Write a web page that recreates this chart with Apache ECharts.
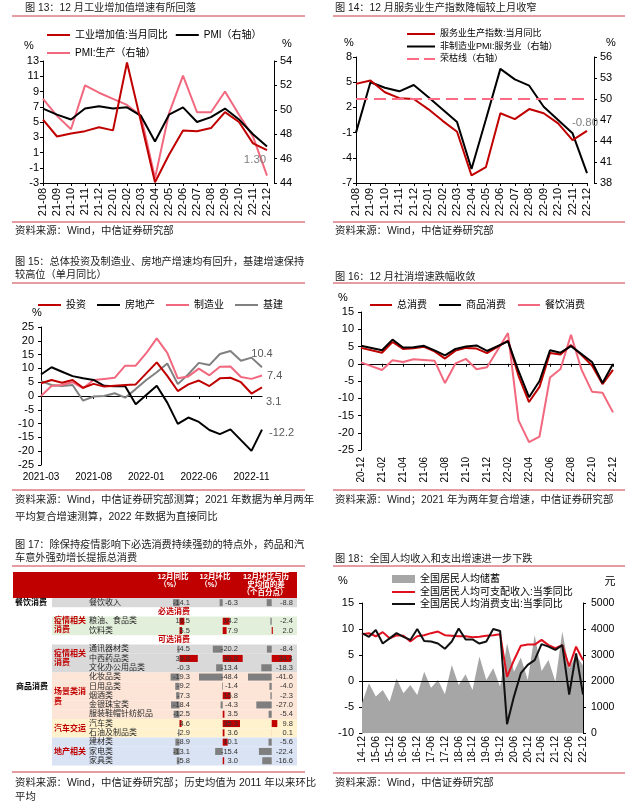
<!DOCTYPE html>
<html><head><meta charset="utf-8">
<script src="https://cdn.jsdelivr.net/npm/echarts/dist/echarts.min.js"></script>
<style>html,body{margin:0;padding:0;background:#fff}#c{width:640px;height:809px}</style>
</head><body><div id="c"></div>
<script>
// ---------- Chart 13 ----------
const c13Cats = ['21-08','21-09','21-10','21-11','21-12','22-01','22-02','22-03','22-04','22-05','22-06','22-07','22-08','22-09','22-10','22-11','22-12'];
const c13Iva  = [5.3,3.1,3.5,3.8,4.3,3.9,12.8,5.0,-2.9,0.7,3.9,3.8,4.2,6.3,5.0,2.2,1.3];
const c13Pmi  = [50.1,49.6,49.2,50.1,50.3,50.1,50.2,49.5,47.4,49.6,50.2,49.0,49.4,50.1,49.2,48.0,47.0];
const c13Prod = [50.9,49.5,48.4,52.0,51.4,50.9,50.4,49.5,44.4,49.7,52.8,49.8,49.8,51.5,49.6,47.8,44.6];
// ---------- Chart 14 ----------
const c14Cats = ['21-08','21-09','21-10','21-11','21-12','22-01','22-02','22-03','22-04','22-05','22-06','22-07','22-08','22-09','22-10','22-11','22-12'];
const c14Svc  = [4.8,5.2,3.8,3.1,3.0,1.8,0.4,-0.9,-6.1,-5.1,1.3,0.6,1.8,1.3,0.1,-1.9,-0.8];
const c14Pmi  = [45.2,52.4,51.6,51.1,52.0,50.3,48.5,46.7,40.0,47.1,54.3,52.8,51.9,48.9,47.0,45.1,39.4];
const c14Line = 50;
// ---------- Chart 15 ----------
const c15Cats = ['2021-03','2021-04','2021-05','2021-06','2021-07','2021-08','2021-09','2021-10','2021-11','2021-12','2022-01','2022-02','2022-03','2022-04','2022-05','2022-06','2022-07','2022-08','2022-09','2022-10','2022-11','2022-12'];
const c15Inv   = [4.6,5.8,4.8,5.8,3.0,4.4,3.4,3.7,4.0,4.2,8.2,12.2,7.3,1.8,4.2,5.6,3.6,6.4,6.6,5.0,0.9,3.1];
const c15Re    = [7.8,10.4,8.8,7.2,6.4,5.8,3.7,3.5,3.5,-3.0,0.4,3.7,-2.4,-10.1,-7.8,-9.4,-12.3,-13.8,-12.1,-16.0,-19.9,-12.2];
const c15Mfg   = [0.0,3.6,4.0,5.0,2.8,5.8,6.2,6.6,11.0,11.0,15.5,20.9,15.6,6.4,7.1,9.9,7.5,10.6,10.7,6.9,6.2,7.4];
const c15Infra = [5.4,4.0,3.6,4.0,-1.7,-0.2,0.0,1.0,-0.6,2.5,5.8,8.6,11.8,4.3,7.9,12.0,11.2,15.2,16.3,12.8,13.9,10.4];
// ---------- Chart 16 ----------
const c16Cats = ['20-12','21-01','21-02','21-03','21-04','21-05','21-06','21-07','21-08','21-09','21-10','21-11','21-12','22-01','22-02','22-03','22-04','22-05','22-06','22-07','22-08','22-09','22-10','22-11','22-12'];
const c16Total = [4.6,null,3.2,6.3,4.3,4.5,4.9,3.6,1.5,3.8,4.6,4.4,3.1,null,6.7,-3.5,-11.1,-6.7,3.1,2.7,5.4,2.5,-0.5,-5.9,-1.8];
const c16Goods = [5.2,null,3.9,7.0,4.7,4.8,5.2,3.9,2.4,4.3,5.0,5.3,3.7,null,6.5,-2.1,-9.7,-5.0,3.9,3.2,5.1,2.8,0.5,-5.6,-0.1];
const c16Food  = [0.4,null,-1.8,1.0,0.5,1.3,1.1,0.9,-5.6,0.1,1.4,-1.6,-1.0,null,8.9,-16.4,-22.7,-21.1,-4.0,-1.5,8.4,-1.7,-8.1,-8.4,-14.1];
// ---------- Chart 17 (table) ----------
const tRows = ['餐饮收入','必选消费','粮油、食品类','饮料类','可选消费','通讯器材类','中西药品类','文化办公用品类','化妆品类','日用品类','烟酒类','金银珠宝类','服装鞋帽针纺织品','汽车类','石油及制品类','建材类','家电类','家具类'];
const tBand = ['cy','','bx','bx','','yq','yq','yq','cj','cj','cj','cj','cj','qc','qc','dc','dc','dc'];
const tYoy  = [-14.1,null,10.5,5.5,null,-4.5,39.8,-0.3,-19.3,-9.2,-7.3,-18.4,-12.5,4.6,-2.9,-8.9,-13.1,-5.8];
const tMom  = [-6.3,null,14.2,7.9,null,-20.2,40.8,-13.4,-48.4,-1.4,15.8,-4.3,3.5,35.3,3.6,10.1,-15.4,3.0];
const tDiff = [-8.8,null,-2.4,2.0,null,-8.4,34.4,-18.3,-41.6,-4.0,-2.3,-27.0,-5.4,9.8,0.1,-5.6,-22.4,-16.6];
// ---------- Chart 18 ----------
const c18Cats = ['14-12','15-03','15-06','15-09','15-12','16-03','16-06','16-09','16-12','17-03','17-06','17-09','17-12','18-03','18-06','18-09','18-12','19-03','19-06','19-09','19-12','20-03','20-06','20-09','20-12','21-03','21-06','21-09','21-12','22-03','22-06','22-09','22-12'];
const c18Sav = [1150,1910,1400,1650,1200,2100,1530,1850,1460,2360,1740,2040,1490,2615,1850,2260,1650,2940,2040,2490,1780,3450,2360,2900,2040,3770,2380,2810,1970,3900,2490,3000,2600];
const c18Inc = [9.0,9.2,8.6,9.4,8.2,8.8,8.7,7.6,8.6,8.8,9.2,9.5,8.8,8.7,8.6,8.6,8.4,8.5,8.7,8.8,9.0,0.8,4.0,6.8,7.0,7.0,7.9,6.9,6.3,6.9,2.8,6.6,4.0];
const c18Exp = [9.2,8.5,9.8,7.2,8.2,9.2,8.5,7.9,10.0,7.7,7.6,7.2,6.2,7.6,10.1,8.0,8.0,7.2,7.6,10.0,9.6,-8.3,-3.0,1.5,3.1,4.0,7.1,6.6,6.0,6.9,-2.6,5.3,-2.6];

// ================= build =================
const FF = "'Liberation Sans','Noto Sans CJK SC',sans-serif";
const RED = '#c00000', PINK = '#f2687e', GRAYL = '#808080', BLK = '#000000';
const RULE = '#cc3a44';
const opt = {animation:false, backgroundColor:'#ffffff', textStyle:{fontFamily:FF},
  grid:[], xAxis:[], yAxis:[], series:[], legend:[], graphic:[]};
function grid(g){ opt.grid.push(Object.assign({outerBoundsMode:'none', containLabel:false}, g)); return opt.grid.length-1; }
function xa(a){ opt.xAxis.push(a); return opt.xAxis.length-1; }
function ya(a){ opt.yAxis.push(a); return opt.yAxis.length-1; }
function vAxis(gi,min,max,itv,pos,margin,fs,offset){
  return ya({type:'value',gridIndex:gi,min:min,max:max,interval:itv,position:pos,offset:offset||0,
    axisLine:{show:true,onZero:false,lineStyle:{color:'#000',width:1}},
    axisTick:{show:true,length:3,lineStyle:{color:'#000',width:1}},
    axisLabel:{color:'#000',fontSize:fs||11,fontFamily:FF,margin:margin,formatter:v=>String(v)},
    splitLine:{show:false}});
}
function catBottom(gi,data,o){
  return xa({type:'category',gridIndex:gi,data:data,boundaryGap:false,position:'bottom',
    axisLine:{show:!!o.line,onZero:false,lineStyle:{color:'#000',width:1}},
    axisTick:{show:!!o.tick,length:3,interval:o.itv,lineStyle:{color:'#000'}},
    axisLabel:{show:true,interval:o.itv,rotate:o.rot||0,margin:o.margin,fontSize:o.fs,color:'#000',fontFamily:FF},
    splitLine:{show:false}});
}
function zeroAxis(gi,data,o){
  return xa({type:'category',gridIndex:gi,data:data,boundaryGap:false,position:'top',z:o.z||0,
    axisLine:{show:true,onZero:true,lineStyle:{color:'#000',width:1}},
    axisTick:{show:!!o.tick,inside:true,length:3,interval:o.itv,lineStyle:{color:'#000'}},
    axisLabel:{show:false},splitLine:{show:false}});
}
function lineS(name,xi,yi,data,color,o){
  o=o||{};
  const s={type:'line',name:name,xAxisIndex:xi,yAxisIndex:yi,data:data,symbol:'none',silent:true,
    connectNulls:!!o.connect,z:o.z||2,lineStyle:{color:color,width:o.w||2,type:o.type||'solid'},
    itemStyle:{color:color},emphasis:{disabled:true}};
  if(o.label){
    s.symbol='circle'; s.symbolSize=0; s.showSymbol=true; s.showAllSymbol=true; s.label={show:false};
    const n=data.length-1;
    s.data=data.map((v,i)=> i===n ? {value:v,label:Object.assign({show:true,color:'#595959',fontSize:11,fontFamily:FF},o.label)} : v);
  }
  if(o.area){ s.areaStyle={color:color,opacity:1,origin:'start'}; s.lineStyle.width=0; }
  if(o.markLine){ s.markLine=o.markLine; }
  opt.series.push(s); return s;
}
function legend(l){
  opt.legend.push(Object.assign({padding:0,itemGap:8,itemWidth:23,itemHeight:2,icon:'rect',selectedMode:false,
    textStyle:{fontSize:10,color:'#000',fontFamily:FF}},l));
}
function T(text,x,y,o){ o=o||{};
  opt.graphic.push({type:'text',x:x,y:y,z:o.z||30,silent:true,style:{text:text,fill:o.color||'#1a1a1a',
    fontSize:o.size||10,fontWeight:o.bold?'bold':'normal',fontFamily:FF,
    align:o.align||'left',verticalAlign:'middle',textAlign:o.align||'left',textVerticalAlign:'middle'}});
}
function L(x1,y1,x2,y2,c,w){ opt.graphic.push({type:'line',silent:true,z:30,shape:{x1:x1,y1:y1,x2:x2,y2:y2},style:{stroke:c,lineWidth:w||1}}); }
function R(x,y,w,h,c,z){ opt.graphic.push({type:'rect',silent:true,z:z||0,shape:{x:x,y:y,width:w,height:h},style:{fill:c}}); }

// ---------- Chart 13 ----------
{
  const g=grid({left:43,top:61,width:224,height:122});
  const x=catBottom(g,c13Cats,{line:true,tick:true,itv:0,rot:90,margin:5,fs:11});
  const yl=vAxis(g,-3,13,2,'left',4,11);
  const yr=vAxis(g,44,54,2,'right',6,11,7);
  lineS('PMI:生产（右轴）',x,yr,c13Prod,PINK);
  lineS('PMI（右轴）',x,yr,c13Pmi,BLK);
  lineS('工业增加值:当月同比',x,yl,c13Iva,RED,{label:{position:'bottom',distance:4,offset:[-12,0],color:'#808080',fontSize:11.5,formatter:p=>Number(p.value).toFixed(2)}});
  legend({data:['工业增加值:当月同比','PMI（右轴）'],left:47,top:30,itemGap:8});
  legend({data:['PMI:生产（右轴）'],left:47,top:48});
}
// ---------- Chart 14 ----------
{
  const g=grid({left:356,top:57,width:231,height:126});
  const x=catBottom(g,c14Cats,{line:true,tick:true,itv:0,rot:90,margin:5,fs:11});
  const yl=vAxis(g,-7,8,3,'left',4,11);
  const yr=vAxis(g,38,56,3,'right',6,11,7);
  lineS('荣枯线（右轴）',x,yr,[],'#ff6b84',{type:[12,6],markLine:{symbol:'none',silent:true,label:{show:false},
    lineStyle:{color:'#ff6b84',width:2,type:[12,6]},emphasis:{disabled:true},data:[{yAxis:c14Line}]}});
  lineS('非制造业PMI:服务业（右轴）',x,yr,c14Pmi,BLK);
  lineS('服务业生产指数:当月同比',x,yl,c14Svc,RED,{label:{position:'top',distance:2,offset:[-2,0],color:'#808080',fontSize:11.5,formatter:p=>Number(p.value).toFixed(2)}});
  const ts={fontSize:9,color:'#000',fontFamily:FF};
  legend({data:['服务业生产指数:当月同比'],left:407,top:29.5,itemWidth:28,textStyle:ts});
  legend({data:['非制造业PMI:服务业（右轴）'],left:407,top:42,itemWidth:28,textStyle:ts});
  legend({data:[{name:'荣枯线（右轴）',icon:'path://M0,0h12v2h-12zM17,0h11v2h-11z'}],left:407,top:54.5,itemWidth:28,textStyle:ts});
}
// ---------- Chart 15 ----------
{
  const g=grid({left:41,top:327,width:221,height:138});
  const x=catBottom(g,c15Cats,{line:false,tick:false,itv:4,margin:7,fs:10});
  zeroAxis(g,c15Cats,{tick:true,itv:4});
  const y=vAxis(g,-25,25,5,'left',7,11);
  lineS('基建',x,y,c15Infra,GRAYL,{label:{position:'top',distance:8}});
  lineS('制造业',x,y,c15Mfg,PINK,{label:{position:'right',distance:5}});
  lineS('房地产',x,y,c15Re,BLK,{label:{position:'right',distance:7,offset:[0,3]}});
  lineS('投资',x,y,c15Inv,RED,{label:{position:'right',distance:4,offset:[0,15]}});
  legend({data:['投资','房地产','制造业','基建'],left:38,top:300,itemGap:11});
}
// ---------- Chart 16 ----------
{
  const g=grid({left:361,top:312,width:252,height:138});
  const x=catBottom(g,c16Cats,{line:false,tick:false,itv:1,rot:90,margin:7,fs:10});
  zeroAxis(g,c16Cats,{tick:true,itv:1});
  const y=vAxis(g,-25,15,5,'left',7,11);
  lineS('餐饮消费',x,y,c16Food,PINK,{connect:true});
  lineS('总消费',x,y,c16Total,RED,{connect:true});
  lineS('商品消费',x,y,c16Goods,BLK,{connect:true});
  legend({data:['总消费','商品消费','餐饮消费'],left:370,top:300,itemGap:12,itemWidth:22});
}
// ---------- Chart 18 ----------
{
  const g=grid({left:362,top:603,width:221,height:130});
  const x=catBottom(g,c18Cats,{line:false,tick:false,itv:1,rot:90,margin:3,fs:10.5});
  const yl=vAxis(g,-10,15,5,'left',8,11);
  const yr=vAxis(g,0,5000,1000,'right',8,10.5);
  zeroAxis(g,c18Cats,{tick:false,itv:1,z:3});
  lineS('全国居民人均储蓄',x,yr,c18Sav,'#a6a6a6',{area:true,z:2});
  lineS('全国居民人均可支配收入:当季同比',x,yl,c18Inc,'#e0101e',{z:4});
  lineS('全国居民人均消费支出:当季同比',x,yl,c18Exp,'#111111',{z:5});
  legend({data:['全国居民人均储蓄'],left:392,top:574,itemHeight:8});
  legend({data:['全国居民人均可支配收入:当季同比'],left:392,top:587});
  legend({data:['全国居民人均消费支出:当季同比'],left:392,top:599});
}
// ---------- Chart 17 table ----------
{
  const TT=598, RH=9.3, N=tRows.length;
  const BAND={cy:'#d9d9d9',bx:'#e2efda',yq:'#d9d9d9',cj:'#fce4d6',qc:'#fff2cc',dc:'#dae3f3'};
  const gb=grid({left:52,top:TT,width:245,height:RH*N});
  const xb=xa({type:'value',gridIndex:gb,min:0,max:1,show:false});
  const yb=ya({type:'category',gridIndex:gb,data:tRows,inverse:true,show:false});
  ya({type:'category',gridIndex:gb,data:tRows,inverse:true,position:'left',offset:-37,z:10,
    axisLine:{show:false},axisTick:{show:false},
    axisLabel:{show:true,inside:true,margin:0,interval:0,fontSize:8,color:'#262626',fontFamily:FF,
      formatter:(v,i)=> tBand[i]==='' ? '' : v}});
  opt.series.push({type:'bar',xAxisIndex:xb,yAxisIndex:yb,silent:true,z:1,barWidth:'100%',
    data:tBand.map(b=>({value:b?1:0,itemStyle:{color:b?BAND[b]:'rgba(0,0,0,0)'}}))});
  function col(left,width,min,max,vals,off){
    const gi=grid({left:left,top:TT,width:width,height:RH*N});
    const xi=xa({type:'value',gridIndex:gi,min:min,max:max,show:false});
    const yi=ya({type:'category',gridIndex:gi,data:tRows,inverse:true,show:false});
    ya({type:'category',gridIndex:gi,data:tRows,inverse:true,position:'right',offset:off,z:10,
      axisLine:{show:false},axisTick:{show:false},
      axisLabel:{show:true,inside:true,margin:0,interval:0,fontSize:7.5,color:'#333',fontFamily:FF,
        formatter:(v,i)=> vals[i]==null ? '' : vals[i].toFixed(1)}});
    opt.series.push({type:'bar',xAxisIndex:xi,yAxisIndex:yi,data:vals,barWidth:7,silent:true,z:3,
      itemStyle:{color:p=> p.value>=0 ? '#c00000' : '#7f7f7f'}});
  }
  col(168,31,-25,42.4,tYoy,-9);
  col(199,46,-48.4,45.5,tMom,-7);
  col(246,50,-45.1,42.6,tDiff,-3);
  // header
  R(13,572,284,26,'#c00000',0);
  const hw={color:'#ffffff',bold:true,size:7.5,align:'center'};
  T('12月同比',173,577,hw); T('（%）',170,585,hw);
  T('12月环比',215,577,hw); T('（%）',211,585,hw);
  T('12月环比与历',266,577,hw); T('史均值的差',266,585,hw); T('（个百分点）',265,593,hw);
  const rc={color:'#c00000',bold:true,size:8};
  T('必选消费',174,612,Object.assign({align:'center'},rc));
  T('可选消费',174,640,Object.assign({align:'center'},rc));
  T('疫情相关',54,621,rc); T('消费',54,630,rc);
  T('疫情相关',54,654,rc); T('消费',54,663,rc);
  T('场景类消',54,692,rc); T('费',54,702,rc);
  T('汽车交运',54,729,rc);
  T('地产相关',54,752,rc);
  T('餐饮消费',15,602.5,{bold:true,size:8,color:'#000'});
  T('商品消费',16,687,{bold:true,size:8,color:'#000'});
}
// ---------- page text ----------
[[12,16,305],[333,16,625],[12,222,305],[333,222,625],[12,283,305],[333,283,625],[12,490,305],[333,490,625],[12,566,305],[333,566,625],[12,772,305],[333,773,625]]
  .forEach(r=>L(r[0],r[1],r[2],r[1],RULE,1));
const TS={size:10.2,color:'#1a1a1a'};
T('图 13：12 月工业增加值增速有所回落',25,8.5,TS);
T('图 14：12 月服务业生产指数降幅较上月收窄',335,8.5,TS);
T('图 15：总体投资及制造业、房地产增速均有回升，基建增速保持',15,262,TS);
T('较高位（单月同比）',15,275,TS);
T('图 16：12 月社消增速跌幅收敛',335,277,TS);
T('图 17：除保持疫情影响下必选消费持续强劲的特点外，药品和汽',15,545,TS);
T('车意外强劲增长提振总消费',15,558,TS);
T('图 18：全国人均收入和支出增速进一步下跌',335,559,TS);
const SS={size:10.4,color:'#1a1a1a'};
T('资料来源：Wind，中信证券研究部',15,231,SS);
T('资料来源：Wind，中信证券研究部',335,231,SS);
T('资料来源：Wind，中信证券研究部测算；2021 年数据为单月两年',15,500,SS);
T('平均复合增速测算，2022 年数据为直接同比',15,517,SS);
T('资料来源：Wind；2021 年为两年复合增速，中信证券研究部',335,500,SS);
T('资料来源：Wind，中信证券研究部；历史均值为 2011 年以来环比',15,783,SS);
T('平均',15,797,SS);
T('资料来源：Wind，中信证券研究部',335,783,SS);
const US={size:11,color:'#000',align:'center'};
T('%',29,46,US); T('%',287,44,US);
T('%',349,43,US); T('%',611,43,US);
T('%',37,313,US); T('%',343,298,US);
T('%',343,581,US); T('元',610,582,US);

const chart = echarts.init(document.getElementById('c'), null, {renderer:'canvas'});
chart.setOption(opt);
</script></body></html>
